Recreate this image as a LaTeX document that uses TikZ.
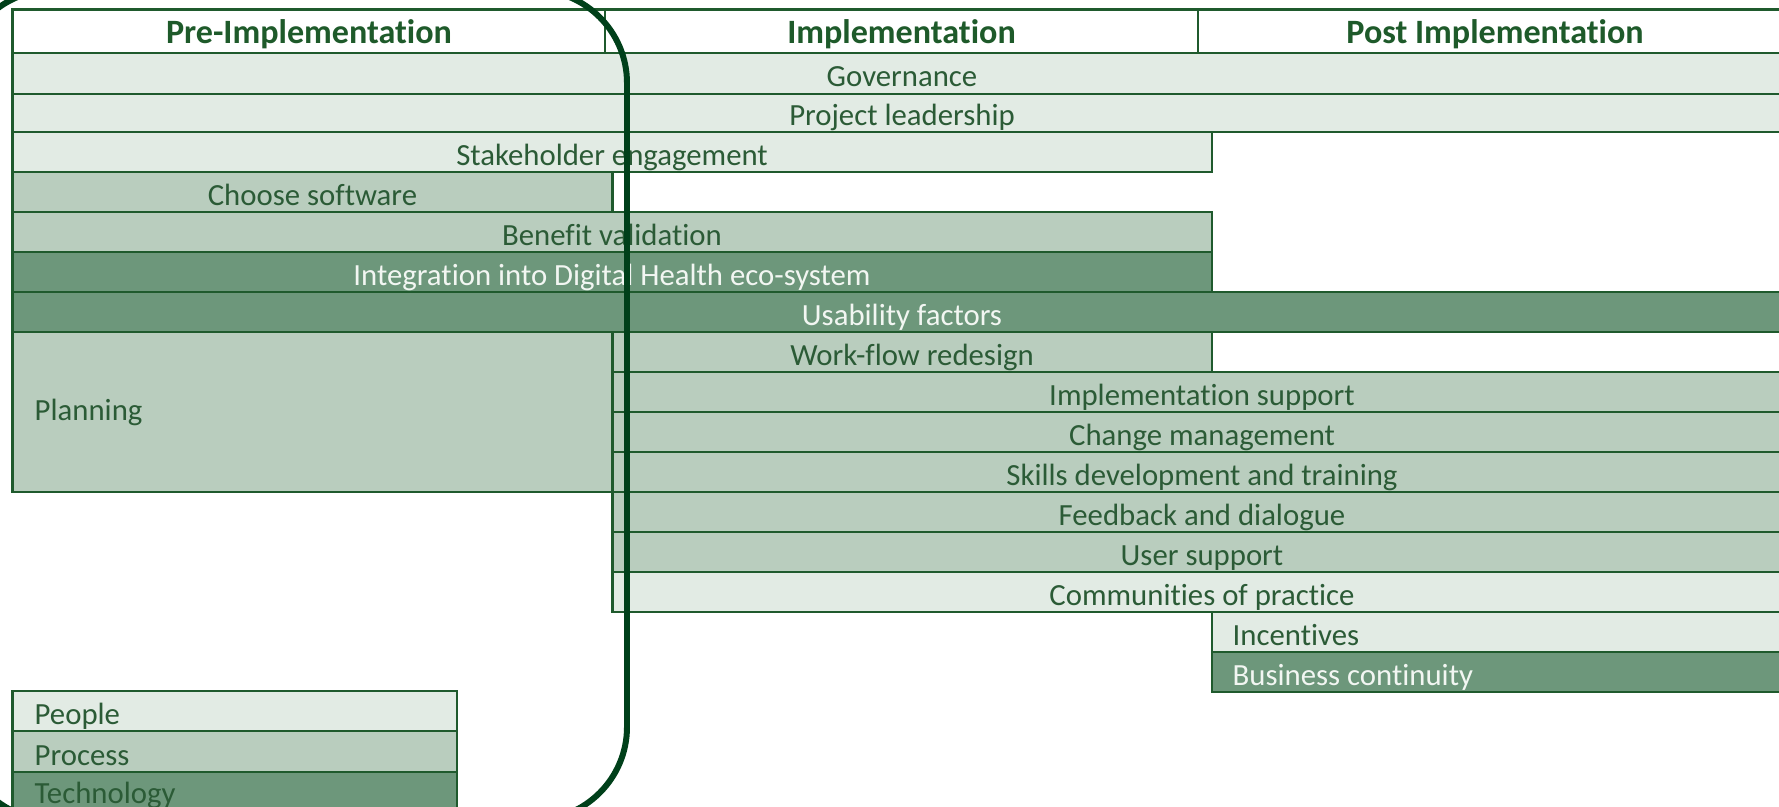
\documentclass[tikz,border=0pt]{standalone}
\usepackage{fontspec}
\setmainfont[RawFeature={-liga;-clig;-calt;-dlig;-hlig}]{Carlito}
\usepackage{tikz}

\definecolor{peoplefill}{HTML}{E2EBE4}
\definecolor{processfill}{HTML}{B9CDBE}
\definecolor{techfill}{HTML}{6D977B}
\definecolor{rowline}{HTML}{1F5A2D}
\definecolor{rowtext}{HTML}{2B5B36}
\definecolor{headtext}{HTML}{1E5A2A}
\definecolor{techtext}{HTML}{F2F6F2}
\definecolor{ringline}{HTML}{00401A}

\tikzset{
	headbox/.style={draw=rowline, line width=0.6pt, fill=white},
	people/.style={draw=rowline, line width=0.6pt, fill=peoplefill},
	process/.style={draw=rowline, line width=0.6pt, fill=processfill},
	tech/.style={draw=rowline, line width=0.6pt, fill=techfill},
	lbl/.style={inner sep=0pt, anchor=base, text=rowtext, font=\fontsize{8.75}{10}\selectfont},
	lblw/.style={lbl, text=techtext},
	headlbl/.style={inner sep=0pt, anchor=base, text=headtext, font=\fontsize{9.7}{11}\selectfont\bfseries},
	phasering/.style={draw=ringline, line width=1.7pt, rounded corners=0.93cm}
}

\begin{document}
\begin{tikzpicture}[x=0.01cm, y=-0.01cm]
		\useasboundingbox (0,0) rectangle (1779,806);
		% phases
		\draw[headbox] (12.5,9.5) rectangle (605,53);
		\draw[headbox] (605,9.5) rectangle (1198,53);
		\draw[headbox] (1198,9.5) rectangle (1792,53);
		\node[headlbl] (pre) at (309,44) {Pre-Implementation};
		\node[headlbl] (impl) at (901.5,44) {Implementation};
		\node[headlbl] (post) at (1495,44) {Post Implementation};
		% bars
		\draw[people] (12.5,53) rectangle (1792,94);
		\node[lbl] (gov) at (902,87) {Governance};
		\draw[people] (12.5,94) rectangle (1792,132);
		\node[lbl] (lead) at (902,125) {Project leadership};
		\draw[people] (12.5,132) rectangle (1212,172);
		\node[lbl] (stake) at (612,165) {Stakeholder engagement};
		\draw[process] (12.5,172) rectangle (612.5,212);
		\node[lbl] (soft) at (312.5,205) {Choose software};
		\draw[process] (12.5,212) rectangle (1212,252);
		\node[lbl] (bene) at (612,245) {Benefit validation};
		\draw[tech] (12.5,252) rectangle (1212,292);
		\node[lblw] (integ) at (612,285) {Integration into Digital Health eco-system};
		\draw[tech] (12.5,292) rectangle (1792,332);
		\node[lblw] (usab) at (902,325) {Usability factors};
		\draw[process] (12.5,332) rectangle (612.5,492);
		\node[lbl, anchor=base west] (plan) at (34,420) {Planning};
		\draw[process] (612.5,332) rectangle (1212,372);
		\node[lbl] (flow) at (912,365) {Work-flow redesign};
		\draw[process] (612.5,372) rectangle (1792,412);
		\node[lbl] (supp) at (1202,405) {Implementation support};
		\draw[process] (612.5,412) rectangle (1792,452);
		\node[lbl] (change) at (1202,445) {Change management};
		\draw[process] (612.5,452) rectangle (1792,492);
		\node[lbl] (skills) at (1202,485) {Skills development and training};
		\draw[process] (612.5,492) rectangle (1792,532);
		\node[lbl] (feed) at (1202,525) {Feedback and dialogue};
		\draw[process] (612.5,532) rectangle (1792,572);
		\node[lbl] (user) at (1202,565) {User support};
		\draw[people] (612.5,572) rectangle (1792,612);
		\node[lbl] (comm) at (1202,605) {Communities of practice};
		\draw[people] (1212,612) rectangle (1792,652);
		\node[lbl, anchor=base west] (incent) at (1232,645) {Incentives};
		\draw[tech] (1212,652) rectangle (1792,692);
		\node[lblw, anchor=base west] (cont) at (1232,685) {Business continuity};
		% key
		\draw[people] (12.5,691) rectangle (457,731);
		\node[lbl, anchor=base west] (kpeople) at (34,724) {People};
		\draw[process] (12.5,731) rectangle (457,772);
		\node[lbl, anchor=base west] (kprocess) at (34,765) {Process};
		\draw[tech] (12.5,772) rectangle (457,812);
		\node[lbl, anchor=base west] (ktech) at (34,803) {Technology};
		% ring round the first phase
		\draw[phasering] (-40,-10) rectangle (627,820);
\end{tikzpicture}
\end{document}
